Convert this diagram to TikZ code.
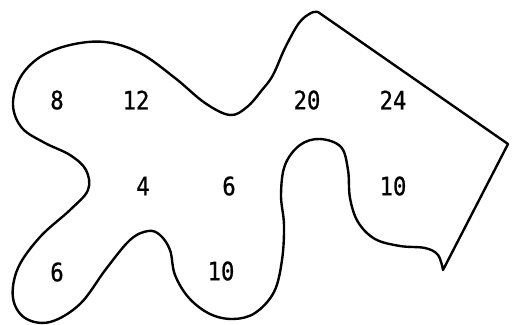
\documentclass[tikz,border=0pt]{standalone}
\usepackage{fontspec}
\newfontfamily\cifre[FakeStretch=0.88, FakeBold=0.8]{DejaVu Sans Mono}
\begin{document}
\begin{tikzpicture}[x=0.025cm, y=-0.025cm, line width=1.7pt, line join=round,
        num/.style={font=\cifre\fontsize{18}{18}\selectfont, inner sep=0pt}]
        \useasboundingbox (0,0) rectangle (513,324);
        %contorno
        \draw plot[smooth, tension=0.6] coordinates {(443,270) (438,255) (425,248) (400,246) (375,239) (358,222) (350,198) (348,170) (341,147) (320,139) (300,145) (285,165) (281,195) (284,225) (282,260) (274,292) (255,313) (233,319) (210,314) (189,298) (175,275) (170,250) (160,235) (148,231) (130,240) (106,269) (80,304) (50,322) (25,318) (13,298) (18,268) (40,237) (70,210) (88,190) (86,170) (70,155) (45,143) (22,128) (13,105) (20,78) (40,57) (70,45) (105,42) (140,53) (175,78) (205,103) (230,115) (247,107) (262,90) (273,75) (285,48) (299,23) (311,13) (318,12)} -- (508,144) -- cycle;

        %numeri
        \node[num] (a8) at (57,100) {8};
        \node[num] (a12) at (136,100) {12};
        \node[num] (a20) at (307,100) {20};
        \node[num] (a24) at (393,100) {24};
        \node[num] (b4) at (143,186) {4};
        \node[num] (b6) at (229,186) {6};
        \node[num] (b10) at (393,186) {10};
        \node[num] (c6) at (57,272) {6};
        \node[num] (c10) at (221,271) {10};
\end{tikzpicture}
\end{document}
